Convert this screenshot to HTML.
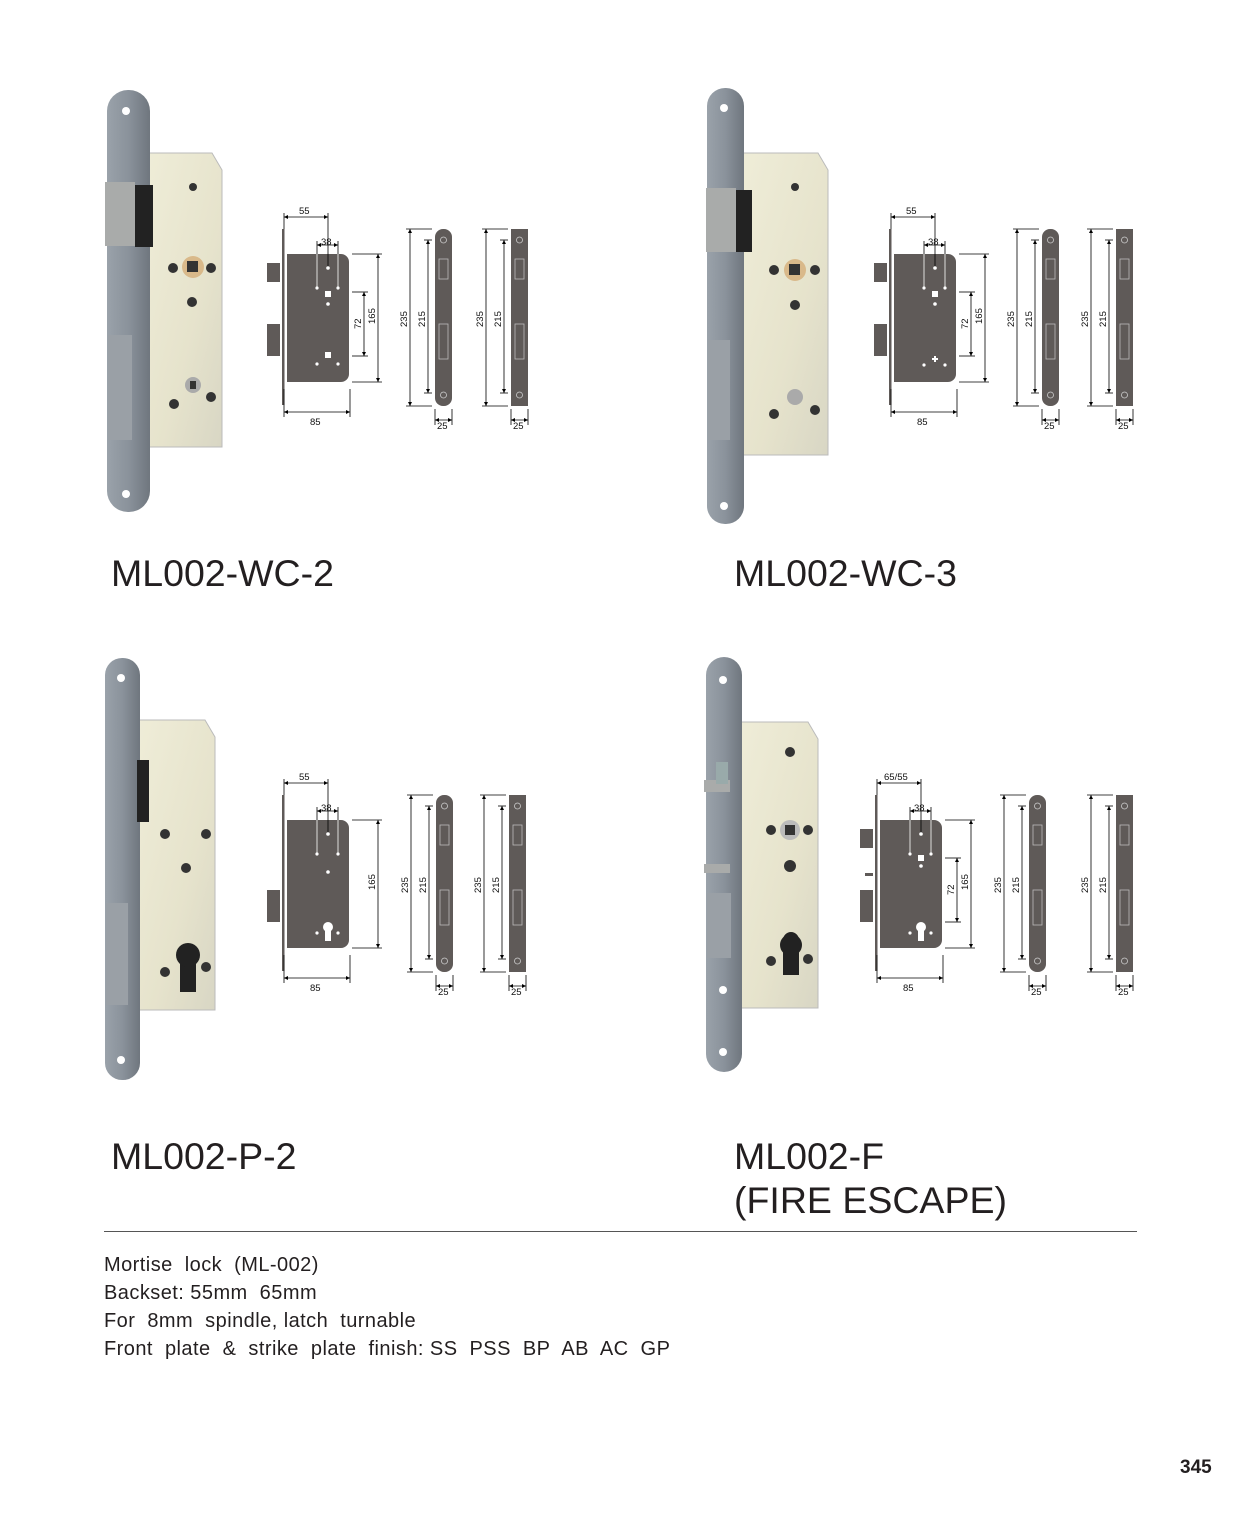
<!DOCTYPE html>
<html><head><meta charset="utf-8"><style>
body{margin:0;background:#fff;width:1240px;height:1535px;overflow:hidden;font-family:"Liberation Sans",sans-serif}
.t{position:absolute;color:#231f20;font-size:37.5px;line-height:44px}
.d{position:absolute;left:104px;font-size:20px;color:#231f20;letter-spacing:0.45px}
</style></head><body>
<svg width="1240" height="1535" style="position:absolute;left:0;top:0" font-family="Liberation Sans, sans-serif">
<defs>
<linearGradient id="fp" x1="0" x2="1"><stop offset="0" stop-color="#9aa2aa"/><stop offset="0.5" stop-color="#8a929b"/><stop offset="1" stop-color="#6f767e"/></linearGradient>
<linearGradient id="cs" x1="0" x2="1" y1="0" y2="1"><stop offset="0" stop-color="#efedd8"/><stop offset="0.6" stop-color="#e6e3cc"/><stop offset="1" stop-color="#d8d6c4"/></linearGradient>
<marker id="a" viewBox="0 0 6 6" refX="6" refY="3" markerWidth="5" markerHeight="5" orient="auto-start-reverse"><path d="M0,0L6,3L0,6z" fill="#000"/></marker>
<g id="dg" stroke="#000" stroke-width="0.8" fill="none">
 <rect x="0" y="0" width="2.5" height="176" fill="#5f5a58" stroke="none"/>
 <path d="M5,25H59a8,8 0 0 1 8,8V145a8,8 0 0 1 -8,8H5z" fill="#5f5a58" stroke="none"/>
 <rect x="-15" y="95" width="13" height="32" fill="#5f5a58" stroke="none"/>
 <line x1="2" y1="-16" x2="2" y2="0"/><line x1="46" y1="-16" x2="46" y2="40"/>
 <line x1="2" y1="-12" x2="46" y2="-12" marker-start="url(#a)" marker-end="url(#a)"/>
 <line x1="35" y1="12" x2="35" y2="60" stroke="#fff"/><line x1="56" y1="12" x2="56" y2="60" stroke="#fff"/>
 <line x1="35" y1="12" x2="35" y2="25"/><line x1="56" y1="12" x2="56" y2="25"/>
 <line x1="35" y1="16" x2="56" y2="16" marker-start="url(#a)" marker-end="url(#a)"/>
 <line x1="70" y1="25" x2="100" y2="25"/><line x1="70" y1="153" x2="100" y2="153"/>
 <line x1="96" y1="25" x2="96" y2="153" marker-start="url(#a)" marker-end="url(#a)"/>
 <line x1="2" y1="160" x2="2" y2="188"/><line x1="68" y1="160" x2="68" y2="188"/>
 <line x1="2" y1="183" x2="68" y2="183" marker-start="url(#a)" marker-end="url(#a)"/>
 <circle cx="35" cy="59" r="1.6" fill="#fff" stroke="none"/><circle cx="56" cy="59" r="1.6" fill="#fff" stroke="none"/>
</g>
<g id="sr" stroke="#000" stroke-width="0.8" fill="none">
 <rect x="25" y="0" width="17" height="177" rx="8" fill="#5f5a58" stroke="none"/>
 <line x1="-4" y1="0" x2="22" y2="0"/><line x1="-4" y1="177" x2="22" y2="177"/>
 <line x1="0" y1="0" x2="0" y2="177" marker-start="url(#a)" marker-end="url(#a)"/>
 <line x1="14" y1="11" x2="22" y2="11"/><line x1="14" y1="164" x2="22" y2="164"/>
 <line x1="18" y1="11" x2="18" y2="164" marker-start="url(#a)" marker-end="url(#a)"/>
 <line x1="25" y1="180" x2="25" y2="196"/><line x1="42" y1="180" x2="42" y2="196"/>
 <line x1="25" y1="191" x2="42" y2="191" marker-start="url(#a)" marker-end="url(#a)"/>
 <circle cx="33.5" cy="11" r="3" stroke="#ccc"/><circle cx="33.5" cy="166" r="3" stroke="#ccc"/>
 <rect x="29" y="30" width="9" height="20" stroke="#bbb"/><rect x="29" y="95" width="9" height="35" stroke="#bbb"/>
</g>
<g id="ss" stroke="#000" stroke-width="0.8" fill="none">
 <rect x="25" y="0" width="17" height="177" fill="#5f5a58" stroke="none"/>
 <line x1="-4" y1="0" x2="22" y2="0"/><line x1="-4" y1="177" x2="22" y2="177"/>
 <line x1="0" y1="0" x2="0" y2="177" marker-start="url(#a)" marker-end="url(#a)"/>
 <line x1="14" y1="11" x2="22" y2="11"/><line x1="14" y1="164" x2="22" y2="164"/>
 <line x1="18" y1="11" x2="18" y2="164" marker-start="url(#a)" marker-end="url(#a)"/>
 <line x1="25" y1="180" x2="25" y2="196"/><line x1="42" y1="180" x2="42" y2="196"/>
 <line x1="25" y1="191" x2="42" y2="191" marker-start="url(#a)" marker-end="url(#a)"/>
 <circle cx="33.5" cy="11" r="3" stroke="#ccc"/><circle cx="33.5" cy="166" r="3" stroke="#ccc"/>
 <rect x="29" y="30" width="9" height="20" stroke="#bbb"/><rect x="29" y="95" width="9" height="35" stroke="#bbb"/>
</g>
</defs>

<g>
 <path d="M145,153H212L222,170V447H145z" fill="url(#cs)" stroke="#bbb"/>
 <rect x="107" y="90" width="43" height="422" rx="21" fill="url(#fp)"/>
 <rect x="105" y="182" width="30" height="64" fill="#a9abaa"/><rect x="135" y="185" width="18" height="62" fill="#222"/>
 <rect x="108" y="335" width="24" height="105" fill="#9aa0a6"/>
 <circle cx="126" cy="111" r="4" fill="#fff"/><circle cx="126" cy="494" r="4" fill="#fff"/>
 <circle cx="193" cy="267" r="11" fill="#d9b98a"/><rect x="187" y="261" width="11" height="11" fill="#333"/>
 <circle cx="173" cy="268" r="5" fill="#333"/><circle cx="211" cy="268" r="5" fill="#333"/><circle cx="192" cy="302" r="5" fill="#333"/>
 <circle cx="193" cy="385" r="8" fill="#aaa"/><rect x="190" y="381" width="6" height="8" fill="#333"/>
 <circle cx="174" cy="404" r="5" fill="#333"/><circle cx="211" cy="397" r="5" fill="#333"/><circle cx="193" cy="187" r="4" fill="#333"/>
</g>
<g>
 <path d="M740,153H818L828,170V455H740z" fill="url(#cs)" stroke="#bbb"/>
 <rect x="707" y="88" width="37" height="436" rx="18" fill="url(#fp)"/>
 <rect x="706" y="188" width="30" height="64" fill="#a9abaa"/><rect x="736" y="190" width="16" height="62" fill="#222"/>
 <rect x="708" y="340" width="22" height="100" fill="#9aa0a6"/>
 <circle cx="724" cy="108" r="4" fill="#fff"/><circle cx="724" cy="506" r="4" fill="#fff"/>
 <circle cx="795" cy="270" r="11" fill="#d9b98a"/><rect x="789" y="264" width="11" height="11" fill="#333"/>
 <circle cx="774" cy="270" r="5" fill="#333"/><circle cx="815" cy="270" r="5" fill="#333"/><circle cx="795" cy="305" r="5" fill="#333"/>
 <circle cx="795" cy="397" r="8" fill="#aaa"/><circle cx="774" cy="414" r="5" fill="#333"/><circle cx="815" cy="410" r="5" fill="#333"/><circle cx="795" cy="187" r="4" fill="#333"/>
</g>
<g>
 <path d="M137,720H205L215,737V1010H137z" fill="url(#cs)" stroke="#bbb"/>
 <rect x="105" y="658" width="35" height="422" rx="17" fill="url(#fp)"/>
 <rect x="137" y="760" width="12" height="62" fill="#222"/>
 <rect x="106" y="903" width="22" height="102" fill="#9aa0a6"/>
 <circle cx="121" cy="678" r="4" fill="#fff"/><circle cx="121" cy="1060" r="4" fill="#fff"/>
 <circle cx="165" cy="834" r="5" fill="#333"/><circle cx="206" cy="834" r="5" fill="#333"/><circle cx="186" cy="868" r="5" fill="#333"/>
 <path d="M180,960a8,8 0 0 1 16,0v32h-16z" fill="#222"/><circle cx="188" cy="955" r="12" fill="#222"/>
 <circle cx="165" cy="972" r="5" fill="#333"/><circle cx="206" cy="967" r="5" fill="#333"/>
</g>
<g>
 <path d="M738,722H808L818,739V1008H738z" fill="url(#cs)" stroke="#bbb"/>
 <rect x="706" y="657" width="36" height="415" rx="18" fill="url(#fp)"/>
 <rect x="704" y="780" width="26" height="12" fill="#a9abaa"/><rect x="716" y="762" width="12" height="22" fill="#9aa"/>
 <rect x="704" y="864" width="26" height="9" fill="#a9abaa"/>
 <rect x="707" y="893" width="24" height="65" fill="#9aa0a6"/>
 <circle cx="723" cy="680" r="4" fill="#fff"/><circle cx="723" cy="990" r="4" fill="#fff"/><circle cx="723" cy="1052" r="4" fill="#fff"/>
 <circle cx="790" cy="830" r="10" fill="#bbb"/><rect x="785" y="825" width="10" height="10" fill="#333"/>
 <circle cx="771" cy="830" r="5" fill="#333"/><circle cx="808" cy="830" r="5" fill="#333"/><circle cx="790" cy="866" r="6" fill="#333"/><circle cx="790" cy="752" r="5" fill="#333"/>
 <path d="M783,940a8,8 0 0 1 16,0v35h-16z" fill="#222"/><circle cx="791" cy="945" r="11" fill="#222"/>
 <circle cx="771" cy="961" r="5" fill="#333"/><circle cx="808" cy="959" r="5" fill="#333"/>
</g>

<g transform="translate(282,229)" font-size="9.5" fill="#111">
 <use href="#dg"/><rect x="-15" y="34" width="13" height="19" fill="#5f5a58"/>
 <line x1="82" y1="63" x2="82" y2="127" stroke="#000" stroke-width="0.8" marker-start="url(#a)" marker-end="url(#a)"/>
 <line x1="70" y1="63" x2="86" y2="63" stroke="#000" stroke-width="0.8"/><line x1="70" y1="127" x2="86" y2="127" stroke="#000" stroke-width="0.8"/>
 <circle cx="46" cy="39" r="1.8" fill="#fff"/><rect x="43" y="62" width="6" height="6" fill="#fff"/><circle cx="46" cy="75" r="1.8" fill="#fff"/>
 <rect x="43" y="123" width="6" height="6" fill="#fff"/><circle cx="35" cy="135" r="1.6" fill="#fff"/><circle cx="56" cy="135" r="1.6" fill="#fff"/>
 <text x="17" y="-15">55</text><text x="39" y="16">38</text><text x="28" y="196">85</text>
 <text transform="translate(93,95) rotate(-90)">165</text><text transform="translate(79,100) rotate(-90)">72</text>
 <g transform="translate(128,0)"><use href="#sr"/><text transform="translate(-3,98) rotate(-90)">235</text><text transform="translate(15,98) rotate(-90)">215</text><text x="27" y="200">25</text></g>
 <g transform="translate(204,0)"><use href="#ss"/><text transform="translate(-3,98) rotate(-90)">235</text><text transform="translate(15,98) rotate(-90)">215</text><text x="27" y="200">25</text></g>
</g>
<g transform="translate(889,229)" font-size="9.5" fill="#111">
 <use href="#dg"/><rect x="-15" y="34" width="13" height="19" fill="#5f5a58"/>
 <line x1="82" y1="63" x2="82" y2="127" stroke="#000" stroke-width="0.8" marker-start="url(#a)" marker-end="url(#a)"/>
 <line x1="70" y1="63" x2="86" y2="63" stroke="#000" stroke-width="0.8"/><line x1="70" y1="127" x2="86" y2="127" stroke="#000" stroke-width="0.8"/>
 <circle cx="46" cy="39" r="1.8" fill="#fff"/><rect x="43" y="62" width="6" height="6" fill="#fff"/><circle cx="46" cy="75" r="1.8" fill="#fff"/>
 <path d="M43,130h6M46,127v6" stroke="#fff" stroke-width="2"/><circle cx="35" cy="136" r="1.6" fill="#fff"/><circle cx="56" cy="136" r="1.6" fill="#fff"/>
 <text x="17" y="-15">55</text><text x="39" y="16">38</text><text x="28" y="196">85</text>
 <text transform="translate(93,95) rotate(-90)">165</text><text transform="translate(79,100) rotate(-90)">72</text>
 <g transform="translate(128,0)"><use href="#sr"/><text transform="translate(-3,98) rotate(-90)">235</text><text transform="translate(15,98) rotate(-90)">215</text><text x="27" y="200">25</text></g>
 <g transform="translate(202,0)"><use href="#ss"/><text transform="translate(-3,98) rotate(-90)">235</text><text transform="translate(15,98) rotate(-90)">215</text><text x="27" y="200">25</text></g>
</g>
<g transform="translate(282,795)" font-size="9.5" fill="#111">
 <use href="#dg"/>
 <circle cx="46" cy="39" r="1.8" fill="#fff"/><circle cx="46" cy="77" r="1.8" fill="#fff"/>
 <circle cx="46" cy="132" r="5" fill="#fff"/><rect x="43" y="132" width="6" height="14" fill="#fff"/><circle cx="35" cy="138" r="1.6" fill="#fff"/><circle cx="56" cy="138" r="1.6" fill="#fff"/>
 <text x="17" y="-15">55</text><text x="39" y="16">38</text><text x="28" y="196">85</text>
 <text transform="translate(93,95) rotate(-90)">165</text>
 <g transform="translate(129,0)"><use href="#sr"/><text transform="translate(-3,98) rotate(-90)">235</text><text transform="translate(15,98) rotate(-90)">215</text><text x="27" y="200">25</text></g>
 <g transform="translate(202,0)"><use href="#ss"/><text transform="translate(-3,98) rotate(-90)">235</text><text transform="translate(15,98) rotate(-90)">215</text><text x="27" y="200">25</text></g>
</g>
<g transform="translate(875,795)" font-size="9.5" fill="#111">
 <use href="#dg"/><rect x="-15" y="34" width="13" height="19" fill="#5f5a58"/><rect x="-10" y="78" width="8" height="3" fill="#5f5a58"/>
 <line x1="82" y1="63" x2="82" y2="127" stroke="#000" stroke-width="0.8" marker-start="url(#a)" marker-end="url(#a)"/>
 <line x1="70" y1="63" x2="86" y2="63" stroke="#000" stroke-width="0.8"/><line x1="70" y1="127" x2="86" y2="127" stroke="#000" stroke-width="0.8"/>
 <circle cx="46" cy="39" r="1.8" fill="#fff"/><rect x="43" y="60" width="6" height="6" fill="#fff"/><circle cx="46" cy="71" r="1.8" fill="#fff"/>
 <circle cx="46" cy="132" r="5" fill="#fff"/><rect x="43" y="132" width="6" height="14" fill="#fff"/><circle cx="35" cy="138" r="1.6" fill="#fff"/><circle cx="56" cy="138" r="1.6" fill="#fff"/>
 <text x="9" y="-15">65/55</text><text x="39" y="16">38</text><text x="28" y="196">85</text>
 <text transform="translate(93,95) rotate(-90)">165</text><text transform="translate(79,100) rotate(-90)">72</text>
 <g transform="translate(129,0)"><use href="#sr"/><text transform="translate(-3,98) rotate(-90)">235</text><text transform="translate(15,98) rotate(-90)">215</text><text x="27" y="200">25</text></g>
 <g transform="translate(216,0)"><use href="#ss"/><text transform="translate(-3,98) rotate(-90)">235</text><text transform="translate(15,98) rotate(-90)">215</text><text x="27" y="200">25</text></g>
</g>
<line x1="104" y1="1231.5" x2="1137" y2="1231.5" stroke="#555" stroke-width="1"/>
</svg>
<div class="t" style="left:111px;top:551px">ML002-WC-2</div>
<div class="t" style="left:734px;top:551px">ML002-WC-3</div>
<div class="t" style="left:111px;top:1134px">ML002-P-2</div>
<div class="t" style="left:734px;top:1134px">ML002-F<br>(FIRE ESCAPE)</div>
<div class="d" style="top:1254px">Mortise&nbsp; lock&nbsp; (ML-002)</div>
<div class="d" style="top:1282px">Backset: 55mm&nbsp; 65mm</div>
<div class="d" style="top:1310px">For&nbsp; 8mm&nbsp; spindle, latch&nbsp; turnable</div>
<div class="d" style="top:1338px">Front&nbsp; plate&nbsp; &amp;&nbsp; strike&nbsp; plate&nbsp; finish: SS&nbsp; PSS&nbsp; BP&nbsp; AB&nbsp; AC&nbsp; GP</div>
<div style="position:absolute;left:1180px;top:1457px;font-size:19px;font-weight:bold;color:#231f20">345</div>
</body></html>
